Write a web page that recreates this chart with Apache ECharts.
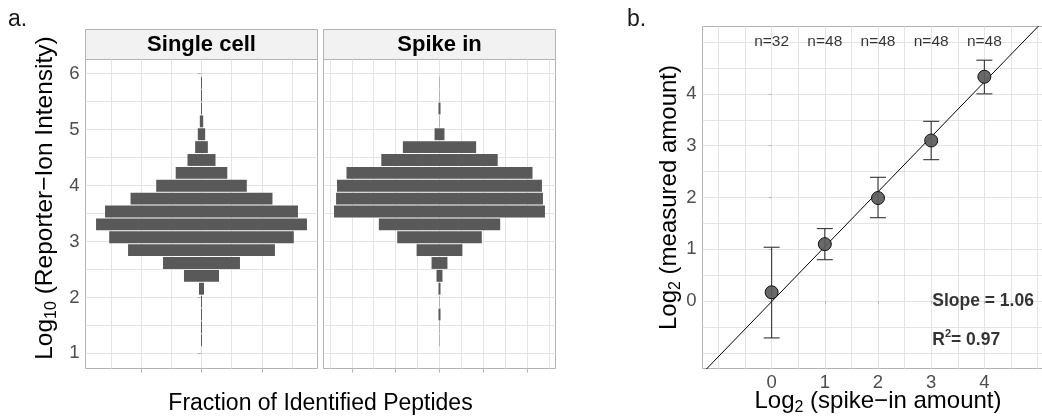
<!DOCTYPE html>
<html>
<head>
<meta charset="utf-8">
<script src="https://cdn.jsdelivr.net/npm/echarts@6/dist/echarts.min.js"></script>
<style>
html,body{margin:0;padding:0;background:#fff;}
#c{width:1042px;height:416px;}
</style>
</head>
<body>
<div id="c"></div>
<script>
// ---------------- data ----------------
const facetNames = ['Single cell', 'Spike in'];
// lower edge of each log10 intensity bin (bottom -> top)
const binStarts = [1.12, 1.35, 1.58, 1.81, 2.04, 2.27, 2.50, 2.73, 2.96, 3.19, 3.42,
                   3.65, 3.88, 4.11, 4.34, 4.57, 4.80, 5.03, 5.26, 5.49, 5.72];
const binWidth = 0.23;
// fraction of identified peptides per bin (bottom -> top)
const singleCellFraction = [0.0008, 0.0008, 0.0008, 0.0008, 0.0041, 0.0290, 0.0637, 0.1216, 0.1528, 0.1746, 0.1597,
                            0.1175, 0.0750, 0.0427, 0.0232, 0.0105, 0.0061, 0.0028, 0.0008, 0.0008, 0.0008];
const spikeInFraction = [0.0004, 0.0004, 0.0023, 0.0004, 0.0023, 0.0068, 0.0181, 0.0522, 0.0964, 0.1383, 0.2404,
                         0.2358, 0.2336, 0.2120, 0.1327, 0.0835, 0.0113, 0.0004, 0.0023, 0.0004, 0.0004];
const facetXTicks = [[-0.05, 0, 0.05], [-0.1, -0.05, 0, 0.05, 0.1]];
const facetXGrid = [[-0.075, -0.05, -0.025, 0, 0.025, 0.05, 0.075],
                    [-0.125, -0.1, -0.075, -0.05, -0.025, 0, 0.025, 0.05, 0.075, 0.1, 0.125]];
const intensityTicks = [1, 2, 3, 4, 5, 6];
const intensityGrid = [1, 1.5, 2, 2.5, 3, 3.5, 4, 4.5, 5, 5.5, 6];
const intensityRange = [0.73, 6.25];

const spikeLevels = [0, 1, 2, 3, 4];
const measuredMean = [0.17, 1.10, 1.99, 3.10, 4.33];
const measuredLow  = [-0.71, 0.80, 1.61, 2.73, 4.00];
const measuredHigh = [1.04, 1.40, 2.39, 3.47, 4.65];
const sampleCounts = ['n=32', 'n=48', 'n=48', 'n=48', 'n=48'];
const fitSlope = 1.06;
const fitIntercept = -0.01;
const fitTexts = ['Slope = 1.06', 'R{sup|2}= 0.97'];
const log2Ticks = [0, 1, 2, 3, 4];
const log2Grid = [-1, -0.5, 0, 0.5, 1, 1.5, 2, 2.5, 3, 3.5, 4, 4.5, 5];
const log2Range = [-1.3, 5.3];

// ---------------- styling / layout ----------------
const FONT = '"Liberation Sans", Arial, Helvetica, sans-serif';
const GRIDC = '#e4e4e4';
const BORDER = '#b3b3b3';
const TICKC = '#4d4d4d';
const BAR = '#595959';

const facetGrids = [
  {left: 85.5, top: 59.5, width: 232, height: 309},
  {left: 323.5, top: 59.5, width: 232, height: 309}
];
const gridB = {left: 702.5, top: 26.5, width: 351, height: 342};

const grids = facetGrids.concat([gridB]).map(g => Object.assign({
  show: true, backgroundColor: '#fff', borderColor: BORDER, borderWidth: 1,
  containLabel: false, outerBoundsMode: 'none'
}, g));

const xAxis = [], yAxis = [], series = [];
const facetData = [singleCellFraction, spikeInFraction];

function gridAxis(gi, pos, range, vals) {
  return {
    gridIndex: gi, type: 'value', position: pos, min: range[0], max: range[1],
    axisLine: {show: false}, axisLabel: {show: false},
    axisTick: {show: false, customValues: vals},
    splitLine: {show: true, lineStyle: {color: GRIDC, width: 1}},
    silent: true
  };
}

facetData.forEach((d, i) => {
  const half = Math.max.apply(null, d) / 2 * 1.1;
  xAxis.push({
    gridIndex: i, type: 'value', min: -half, max: half,
    axisLine: {show: false}, axisLabel: {show: false},
    axisTick: {show: true, length: 4, lineStyle: {color: BORDER}, customValues: facetXTicks[i]},
    splitLine: {show: false}
  });
  xAxis.push(gridAxis(i, 'top', [-half, half], facetXGrid[i]));
  yAxis.push({
    gridIndex: i, type: 'value', min: intensityRange[0], max: intensityRange[1],
    axisLine: {show: false},
    axisLabel: i === 0 ? {show: true, customValues: intensityTicks, color: TICKC, fontSize: 18.5,
                          fontFamily: FONT, margin: 6} : {show: false},
    axisTick: i === 0 ? {show: true, length: 4, lineStyle: {color: BORDER}, customValues: intensityTicks}
                      : {show: false},
    splitLine: {show: false}
  });
  yAxis.push(gridAxis(i, 'right', intensityRange, intensityGrid));

  series.push({
    type: 'custom', xAxisIndex: i * 2, yAxisIndex: i * 2, z: 3, silent: true,
    data: d.map((f, k) => [f, binStarts[k], binStarts[k] + binWidth]),
    encode: {x: 0, y: 1},
    renderItem: function (params, api) {
      const f = api.value(0), y0 = api.value(1), y1 = api.value(2);
      const p0 = api.coord([-f / 2, y1]);
      const p1 = api.coord([f / 2, y0]);
      return {
        type: 'rect',
        shape: {x: p0[0], y: p0[1] + 0.5, width: p1[0] - p0[0], height: p1[1] - p0[1] - 1},
        style: {fill: BAR}
      };
    }
  });
});

// panel b axes
const nameStyle = {
  fontSize: 24, color: '#000', fontFamily: FONT, lineHeight: 29,
  rich: {sub: {fontSize: 16, lineHeight: 16, verticalAlign: 'bottom', color: '#000', fontFamily: FONT}}
};
xAxis.push({
  gridIndex: 2, type: 'value', min: log2Range[0], max: log2Range[1],
  axisLine: {show: false},
  axisLabel: {show: true, customValues: log2Ticks, color: TICKC, fontSize: 18.5, fontFamily: FONT, margin: 5},
  axisTick: {show: true, length: 3, lineStyle: {color: BORDER}, customValues: log2Ticks},
  splitLine: {show: false},
  name: 'Log{sub|2} (spike\u2212in amount)', nameLocation: 'middle', nameGap: 18,
  nameMoveOverlap: false,
  nameTextStyle: nameStyle
});
xAxis.push(gridAxis(2, 'top', log2Range, log2Grid));
yAxis.push({
  gridIndex: 2, type: 'value', min: log2Range[0], max: log2Range[1],
  axisLine: {show: false},
  axisLabel: {show: true, customValues: log2Ticks, color: TICKC, fontSize: 18.5, fontFamily: FONT, margin: 6},
  axisTick: {show: true, length: 3, lineStyle: {color: BORDER}, customValues: log2Ticks},
  splitLine: {show: false},
  name: 'Log{sub|2} (measured amount)', nameLocation: 'middle', nameGap: 19, nameRotate: 90,
  nameMoveOverlap: false,
  nameTextStyle: nameStyle
});
yAxis.push(gridAxis(2, 'right', log2Range, log2Grid));

const XA = 4, YA = 4;
// regression line
series.push({
  type: 'line', xAxisIndex: XA, yAxisIndex: YA, z: 2, silent: true, symbol: 'none',
  data: log2Range.map(x => [x, fitSlope * x + fitIntercept]),
  lineStyle: {color: '#000', width: 1}
});
// error bars
const capHalf = 0.15;
series.push({
  type: 'custom', xAxisIndex: XA, yAxisIndex: YA, z: 3, silent: true,
  data: spikeLevels.map((x, k) => [x, measuredLow[k], measuredHigh[k]]),
  encode: {x: 0, y: [1, 2]},
  renderItem: function (params, api) {
    const x = api.value(0), lo = api.value(1), hi = api.value(2);
    const t = api.coord([x, hi]), b = api.coord([x, lo]);
    const tl = api.coord([x - capHalf, hi]), tr = api.coord([x + capHalf, hi]);
    const bl = api.coord([x - capHalf, lo]), br = api.coord([x + capHalf, lo]);
    const st = {stroke: '#333', lineWidth: 1.1};
    return {type: 'group', children: [
      {type: 'line', shape: {x1: t[0], y1: t[1], x2: b[0], y2: b[1]}, style: st},
      {type: 'line', shape: {x1: tl[0], y1: tl[1], x2: tr[0], y2: tr[1]}, style: st},
      {type: 'line', shape: {x1: bl[0], y1: bl[1], x2: br[0], y2: br[1]}, style: st}
    ]};
  }
});
// points
series.push({
  type: 'scatter', xAxisIndex: XA, yAxisIndex: YA, z: 4, silent: true,
  data: spikeLevels.map((x, k) => [x, measuredMean[k]]),
  symbol: 'circle', symbolSize: 13,
  itemStyle: {color: 'rgba(92,92,92,0.92)', borderColor: '#111', borderWidth: 1, opacity: 1}
});
// n labels
const nLabelY = 5;
series.push({
  type: 'scatter', xAxisIndex: XA, yAxisIndex: YA, z: 5, silent: true,
  data: spikeLevels.map((x, k) => [x, nLabelY, sampleCounts[k]]),
  symbolSize: 1, itemStyle: {color: 'rgba(0,0,0,0)'},
  label: {show: true, position: 'inside', formatter: p => p.value[2],
          color: '#000', fontSize: 15.5, fontFamily: FONT}
});
// fit annotations (left aligned)
const fitPos = [[3.02, 0.0], [3.02, -0.75]];
series.push({
  type: 'scatter', xAxisIndex: XA, yAxisIndex: YA, z: 5, silent: true,
  data: fitPos.map((p, k) => [p[0], p[1], fitTexts[k]]),
  symbolSize: 1, itemStyle: {color: 'rgba(0,0,0,0)'},
  label: {show: true, position: 'inside', align: 'left', formatter: p => p.value[2],
          color: '#000', fontSize: 17.5, fontWeight: 'bold', fontFamily: FONT, lineHeight: 24,
          rich: {sup: {fontSize: 11, lineHeight: 11, verticalAlign: 'top', fontWeight: 'bold',
                       color: '#000', fontFamily: FONT}}}
});

// graphic: panel letters, strips, shared titles of panel a
const graphic = [
  {type: 'text', x: 8, y: 20, style: {text: 'a.', fontSize: 23, fontFamily: FONT, fill: '#1a1a1a',
    verticalAlign: 'middle'}},
  {type: 'text', x: 627, y: 20, style: {text: 'b.', fontSize: 23, fontFamily: FONT, fill: '#1a1a1a',
    verticalAlign: 'middle'}},
  {type: 'text', x: 45, y: 198, rotation: Math.PI / 2, style: {
    text: 'Log{sub|10} (Reporter\u2212Ion Intensity)', fontSize: 24.5, fontFamily: FONT, fill: '#000',
    align: 'center', verticalAlign: 'middle', lineHeight: 29,
    rich: {sub: {fontSize: 16, lineHeight: 16, verticalAlign: 'bottom', fontFamily: FONT, fill: '#000'}}}},
  {type: 'text', x: 320.5, y: 404, style: {text: 'Fraction of Identified Peptides', fontSize: 23,
    fontFamily: FONT, fill: '#000', align: 'center', verticalAlign: 'middle'}}
];
facetGrids.forEach((g, i) => {
  graphic.push({type: 'rect', shape: {x: g.left, y: 29.5, width: g.width, height: g.top - 29.5},
    style: {fill: '#f2f2f2', stroke: BORDER, lineWidth: 1}});
  graphic.push({type: 'text', x: g.left + g.width / 2, y: 44.5, style: {text: facetNames[i],
    fontSize: 22, fontWeight: 'bold', fontFamily: FONT, fill: '#000', align: 'center', verticalAlign: 'middle'}});
});

const chart = echarts.init(document.getElementById('c'), null, {renderer: 'canvas'});
chart.setOption({
  animation: false,
  backgroundColor: '#fff',
  grid: grids,
  xAxis: xAxis,
  yAxis: yAxis,
  series: series,
  graphic: graphic
});
</script>
</body>
</html>
